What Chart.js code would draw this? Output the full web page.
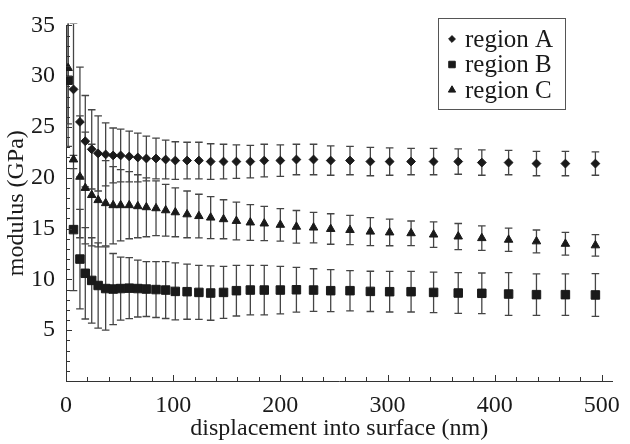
<!DOCTYPE html>
<html>

<head>
    <title>Modulus vs displacement</title>
    <script src="https://cdn.jsdelivr.net/npm/chart.js"></script>
    <style>
        html, body { margin: 0; padding: 0; background: #fff; }
    </style>
</head>

<body>

    <canvas id="myChart" width="630" height="444"></canvas>

    <script>
        // displacement into surface (nm), shared by all three regions
        const displacement = [2, 7, 13, 18, 24, 30, 37, 44, 51, 59, 67, 75, 84, 93, 102, 113, 124, 135, 147, 159,
            172, 185, 200, 215, 231, 247, 265, 284, 302, 322, 343, 366, 388, 413, 439, 466, 494];

        // modulus (GPa) and the +/- error for each region
        const regionA = [null, 28.7, 25.5, 23.6, 22.8, 22.4, 22.3, 22.2, 22.2, 22.1, 22.0, 21.9, 21.9, 21.8, 21.7, 21.7,
            21.7, 21.6, 21.6, 21.6, 21.6, 21.7, 21.7, 21.8, 21.8, 21.7, 21.7, 21.6, 21.6, 21.6, 21.6, 21.6, 21.5, 21.5,
            21.4, 21.4, 21.4];
        const regionAErr = [0, 6.5, 5.4, 4.5, 3.9, 3.7, 3.1, 2.7, 2.6, 2.5, 2.4, 2.2, 2.0, 1.9, 1.85, 1.8, 1.8, 1.75,
            1.7, 1.65, 1.6, 1.6, 1.55, 1.5, 1.5, 1.45, 1.4, 1.4, 1.35, 1.3, 1.3, 1.25, 1.25, 1.2, 1.2, 1.2, 1.15];

        const regionB = [29.6, 14.9, 12.0, 10.6, 9.9, 9.4, 9.1, 9.05, 9.1, 9.14, 9.1, 9.05, 9.0, 8.95, 8.82, 8.79, 8.72,
            8.66, 8.72, 8.89, 8.95, 8.95, 8.95, 8.98, 8.95, 8.89, 8.89, 8.82, 8.79, 8.79, 8.72, 8.66, 8.63, 8.56, 8.5,
            8.5, 8.47];
        const regionBErr = [6.5, 6.0, 4.9, 4.5, 4.2, 4.2, 4.1, 3.5, 3.1, 3.0, 2.8, 2.7, 2.75, 2.8, 2.8, 2.71, 2.66,
            2.68, 2.56, 2.49, 2.44, 2.44, 2.34, 2.2, 2.1, 2.07, 1.98, 1.98, 2.0, 2.0, 2.0, 2.0, 2.0, 2.1, 2.05, 2.05, 2.1];

        const regionC = [30.8, 21.8, 20.1, 19.0, 18.3, 17.8, 17.5, 17.3, 17.3, 17.3, 17.2, 17.1, 17.0, 16.8, 16.6, 16.4,
            16.23, 16.08, 15.92, 15.75, 15.6, 15.5, 15.37, 15.18, 15.1, 14.96, 14.86, 14.7, 14.62, 14.54, 14.41, 14.22,
            14.06, 13.9, 13.74, 13.5, 13.35];
        const regionCErr = [5.5, 7.0, 6.0, 5.5, 5.0, 4.6, 4.2, 3.8, 3.5, 3.3, 3.1, 2.9, 2.7, 2.55, 2.4, 2.3, 2.15,
            2.07, 1.92, 1.86, 1.76, 1.69, 1.6, 1.6, 1.5, 1.5, 1.44, 1.38, 1.31, 1.21, 1.25, 1.28, 1.21, 1.15, 1.12, 1.12,
            1.05];

        const seriesNames = ['region A', 'region B', 'region C'];
        const xTickLabels = [0, 100, 200, 300, 400, 500];
        const yTickLabels = [5, 10, 15, 20, 25, 30, 35];

        const ink = '#1a1a1a';
        const serif = '"Liberation Serif", "Times New Roman", serif';
        Chart.defaults.font.family = serif;
        Chart.defaults.color = ink;

        const toPoints = (vals) => displacement.map((d, i) => ({ x: d, y: vals[i] }));

        // error bars drawn under the markers
        const errorBars = {
            id: 'errorBars',
            beforeDatasetsDraw(chart) {
                const { ctx, chartArea: a } = chart;
                const x = chart.scales.x, y = chart.scales.y;
                ctx.save();
                ctx.beginPath();
                ctx.rect(a.left, a.top - 2, a.right - a.left, a.bottom - a.top + 2);
                ctx.clip();
                ctx.strokeStyle = '#454545';
                ctx.lineWidth = 1.3;
                chart.data.datasets.forEach(ds => {
                    ds.data.forEach((p, i) => {
                        if (p.y == null || !ds.errors[i]) return;
                        const px = x.getPixelForValue(p.x);
                        const top = y.getPixelForValue(p.y + ds.errors[i]);
                        const bot = y.getPixelForValue(p.y - ds.errors[i]);
                        ctx.beginPath();
                        ctx.moveTo(px, top); ctx.lineTo(px, bot);
                        ctx.moveTo(px - 3.8, top); ctx.lineTo(px + 3.8, top);
                        ctx.moveTo(px - 3.8, bot); ctx.lineTo(px + 3.8, bot);
                        ctx.stroke();
                    });
                });
                ctx.restore();
            }
        };

        // tick marks pointing into the plot, longer at labelled ticks
        const innerTicks = {
            id: 'innerTicks',
            afterDraw(chart) {
                const { ctx, chartArea: a } = chart;
                const x = chart.scales.x, y = chart.scales.y;
                ctx.save();
                ctx.strokeStyle = '#333';
                ctx.lineWidth = 1;
                ctx.beginPath();
                x.ticks.forEach(t => {
                    if (t.value % 20 !== 0) return;
                    const px = Math.round(x.getPixelForValue(t.value)) + 0.5;
                    const len = xTickLabels.includes(t.value) ? 6 : 4;
                    ctx.moveTo(px, a.bottom); ctx.lineTo(px, a.bottom - len);
                });
                y.ticks.forEach(t => {
                    if (t.value === 0) return;
                    const py = Math.round(y.getPixelForValue(t.value)) + 0.5;
                    const len = yTickLabels.includes(t.value) ? 6 : 4;
                    ctx.moveTo(a.left, py); ctx.lineTo(a.left + len, py);
                });
                ctx.stroke();
                ctx.restore();
            }
        };

        // boxed legend in the upper right corner
        const boxLegend = {
            id: 'boxLegend',
            afterDraw(chart) {
                const ctx = chart.ctx;
                ctx.save();
                ctx.strokeStyle = '#555';
                ctx.lineWidth = 1;
                ctx.strokeRect(438.5, 18.5, 127, 91);
                const rows = [39, 64.5, 90];
                chart.data.datasets.forEach((ds, i) => {
                    ctx.fillStyle = ink;
                    ctx.strokeStyle = ink;
                    Chart.helpers.drawPoint(ctx, {
                        pointStyle: ds.pointStyle, radius: ds.legendRadius, rotation: 0, borderWidth: 1
                    }, 452, rows[i]);
                    ctx.font = '25px ' + serif;
                    ctx.textAlign = 'left';
                    ctx.textBaseline = 'middle';
                    ctx.fillText(ds.label, 465, rows[i] + 1);
                });
                ctx.restore();
            }
        };

        const ctx = document.getElementById('myChart').getContext('2d');

        const myChart = new Chart(ctx, {
            type: 'scatter',
            data: {
                datasets: [
                    {
                        label: seriesNames[0], data: toPoints(regionA), errors: regionAErr,
                        pointStyle: 'rectRot', pointRadius: 4.4, legendRadius: 3.4,
                        backgroundColor: ink, borderColor: ink, borderWidth: 1
                    },
                    {
                        label: seriesNames[1], data: toPoints(regionB), errors: regionBErr,
                        pointStyle: 'rect', pointRadius: 6, legendRadius: 4.6,
                        backgroundColor: ink, borderColor: ink, borderWidth: 1
                    },
                    {
                        label: seriesNames[2], data: toPoints(regionC), errors: regionCErr,
                        pointStyle: 'triangle', pointRadius: 4.9, legendRadius: 4.2,
                        backgroundColor: ink, borderColor: ink, borderWidth: 1
                    }
                ]
            },
            options: {
                responsive: false,
                animation: false,
                layout: { padding: { top: 16, right: 8, left: 0, bottom: 0 } },
                plugins: {
                    legend: { display: false },
                    tooltip: { enabled: false }
                },
                scales: {
                    x: {
                        type: 'linear',
                        min: 0,
                        max: 510,
                        grid: { display: false, drawTicks: false },
                        border: { display: true, color: '#333', width: 1 },
                        ticks: {
                            stepSize: 20,
                            includeBounds: false,
                            autoSkip: false,
                            maxRotation: 0,
                            padding: 10,
                            font: { size: 24 },
                            callback: (v) => xTickLabels.includes(v) ? String(v) : ''
                        },
                        title: {
                            display: true,
                            text: 'displacement into surface (nm)',
                            font: { size: 24 },
                            padding: { top: 0, bottom: 1 }
                        },
                        afterFit: (s) => { s.height = 63; }
                    },
                    y: {
                        min: 0,
                        max: 35,
                        grid: { display: false, drawTicks: false },
                        border: { display: true, color: '#333', width: 1 },
                        ticks: {
                            stepSize: 1,
                            autoSkip: false,
                            padding: 11,
                            font: { size: 24 },
                            callback: (v) => yTickLabels.includes(v) ? String(v) : ''
                        },
                        title: {
                            display: true,
                            text: 'modulus (GPa)',
                            font: { size: 24 },
                            padding: { top: 2, bottom: 0 }
                        },
                        afterFit: (s) => { s.width = 66; }
                    }
                }
            },
            plugins: [errorBars, innerTicks, boxLegend]
        });
    </script>

</body>

</html>
